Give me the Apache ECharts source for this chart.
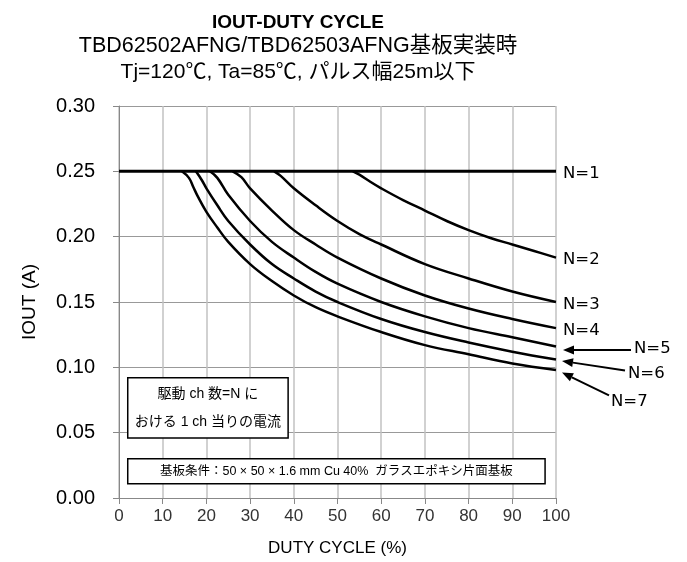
<!DOCTYPE html>
<html>
<head>
<meta charset="utf-8">
<script src="https://cdn.jsdelivr.net/npm/echarts@6/dist/echarts.min.js"></script>
<style>
  html, body { margin: 0; padding: 0; background: #fff; }
  #main { width: 687px; height: 562px; }
</style>
</head>
<body>
<div id="main"></div>
<script>
// 軸の目盛り
var xTicks = [0, 100, 10];
var yTicks = [0, 0.30, 0.05];

// N=1 ～ N=7 の曲線 (DUTY %, IOUT A)
var duty1 = [0, 100];
var iout1 = [0.25, 0.25];
var duty2 = [53.5, 55, 57.5, 60, 65, 70, 75, 80, 85, 90, 95, 100];
var iout2 = [0.25, 0.2475, 0.242, 0.237, 0.228, 0.220, 0.212, 0.205, 0.199, 0.194, 0.189, 0.184];
var duty3 = [35.5, 37, 40, 45, 50, 55, 60, 70, 80, 90, 100];
var iout3 = [0.25, 0.2465, 0.237, 0.224, 0.212, 0.202, 0.194, 0.179, 0.168, 0.158, 0.150];
var duty4 = [26, 28, 30, 35, 40, 45, 50, 60, 70, 80, 90, 100];
var iout4 = [0.25, 0.2455, 0.237, 0.220, 0.205, 0.194, 0.184, 0.168, 0.155, 0.145, 0.137, 0.130];
var duty5 = [20.8, 22.5, 25, 30, 35, 40, 45, 50, 60, 70, 80, 90, 100];
var iout5 = [0.25, 0.245, 0.232, 0.212, 0.196, 0.184, 0.173, 0.164, 0.150, 0.139, 0.130, 0.123, 0.116];
var duty6 = [17.6, 19, 20, 22.5, 25, 30, 35, 40, 45, 50, 60, 70, 80, 90, 100];
var iout6 = [0.25, 0.243, 0.237, 0.224, 0.212, 0.194, 0.179, 0.168, 0.158, 0.150, 0.137, 0.127, 0.119, 0.112, 0.106];
var duty7 = [14.4, 16, 17, 18, 20, 22.5, 25, 30, 35, 40, 45, 50, 60, 70, 80, 90, 100];
var iout7 = [0.25, 0.245, 0.238, 0.231, 0.219, 0.207, 0.196, 0.179, 0.166, 0.155, 0.146, 0.139, 0.127, 0.117, 0.110, 0.103, 0.098];

var seriesNames = ['N=1', 'N=2', 'N=3', 'N=4', 'N=5', 'N=6', 'N=7'];
var dutyList = [duty1, duty2, duty3, duty4, duty5, duty6, duty7];
var ioutList = [iout1, iout2, iout3, iout4, iout5, iout6, iout7];

var latin = '"Liberation Sans", Arial, "Noto Sans CJK JP", sans-serif';
var cjk = '"Liberation Sans", "Noto Sans CJK JP", sans-serif';

function pairs(xs, ys) {
   return xs.map(function (x, i) { return [x, ys[i]]; });
}

var chart = echarts.init(document.getElementById('main'));

var series = seriesNames.map(function (name, i) {
   return {
      name: name,
      type: 'line',
      data: pairs(dutyList[i], ioutList[i]),
      symbol: 'none',
      smooth: i === 0 ? false : 0.4,
      lineStyle: { color: '#000', width: i === 0 ? 3 : 2.5 },
      silent: true,
      z: 5
   };
});

// タイトル3行(中心x, 中心y)
var titleX = 293;
function titleLine(text, cy, size, bold) {
   return {
      text: text, left: titleX, top: cy - size / 2, textAlign: 'center',
      textStyle: {
         fontFamily: bold ? latin : cjk, fontSize: size, lineHeight: size,
         fontWeight: bold ? 'bold' : 'normal', color: '#000'
      }
   };
}

var option = {
   animation: false,
   backgroundColor: '#fff',
   title: [
      titleLine('IOUT-DUTY CYCLE', 17.5, 19, true),
      titleLine('TBD62502AFNG/TBD62503AFNG基板実装時', 41, 21.5, false),
      titleLine('Tj=120℃, Ta=85℃, パルス幅25m以下', 67, 21, false)
   ],
   grid: { left: 119, right: 131, top: 106, bottom: 60 },
   xAxis: {
      type: 'value',
      min: xTicks[0], max: xTicks[1], interval: xTicks[2],
      name: 'DUTY CYCLE (%)',
      nameLocation: 'middle',
      nameGap: 42,
      nameTextStyle: { fontFamily: latin, fontSize: 17, color: '#000' },
      axisLine: { show: true, lineStyle: { color: '#888', width: 1 } },
      axisTick: { show: true, inside: false, length: 6, lineStyle: { color: '#888' } },
      axisLabel: { fontFamily: latin, fontSize: 17, color: '#333', margin: 10 },
      splitLine: { show: true, lineStyle: { color: '#c2c2c2', width: 1.5 } }
   },
   yAxis: {
      type: 'value',
      min: yTicks[0], max: yTicks[1], interval: yTicks[2],
      name: 'IOUT (A)',
      nameLocation: 'middle',
      nameGap: 80,
      nameRotate: 90,
      nameTextStyle: { fontFamily: latin, fontSize: 19, color: '#000' },
      axisLine: { show: true, lineStyle: { color: '#888', width: 1 } },
      axisTick: { show: true, inside: false, length: 6, lineStyle: { color: '#888' } },
      axisLabel: {
         fontFamily: latin, fontSize: 20, color: '#000', margin: 24,
         formatter: function (v) { return v.toFixed(2); }
      },
      splitLine: { show: true, lineStyle: { color: '#999', width: 1 } }
   },
   series: series
};

chart.setOption(option);

// 注記(ラベル・矢印・枠)
function px(x, y) { return chart.convertToPixel({ gridIndex: 0 }, [x, y]); }

var g = [];
var labelFont = '16.5px "DejaVu Sans", Verdana, sans-serif';
// 直接ラベル N=1 ～ N=4
[0, 1, 2, 3].forEach(function (i) {
   var ys = ioutList[i];
   var p = px(100, ys[ys.length - 1]);
   g.push({
      type: 'text', left: p[0] + 7, top: p[1] - 6, z: 20,
      style: { text: seriesNames[i], font: labelFont, fill: '#000' }
   });
});
// 矢印付きラベル N=5 ～ N=7
var arrowOffsets = [
   { tip: [7, 3.5], tail: [75, 3.5], text: [78, -6] },
   { tip: [6, 1.5], tail: [69, 11], text: [72, 6] },
   { tip: [6, 2.5], tail: [53, 25.5], text: [55, 23] }
];
[4, 5, 6].forEach(function (i, k) {
   var ys = ioutList[i];
   var p = px(100, ys[ys.length - 1]);
   var o = arrowOffsets[k];
   var tip = [p[0] + o.tip[0], p[1] + o.tip[1]];
   var tail = [p[0] + o.tail[0], p[1] + o.tail[1]];
   var ang = Math.atan2(tail[1] - tip[1], tail[0] - tip[0]);
   var L = 11, W = 4.5;
   var bx = tip[0] + L * Math.cos(ang), by = tip[1] + L * Math.sin(ang);
   var nx = -Math.sin(ang) * W, ny = Math.cos(ang) * W;
   g.push({
      type: 'line', z: 20,
      shape: { x1: bx, y1: by, x2: tail[0], y2: tail[1] },
      style: { stroke: '#000', lineWidth: 2 }
   });
   g.push({
      type: 'polygon', z: 20,
      shape: { points: [tip, [bx + nx, by + ny], [bx - nx, by - ny]] },
      style: { fill: '#000' }
   });
   g.push({
      type: 'text', left: p[0] + o.text[0], top: p[1] + o.text[1], z: 20,
      style: { text: seriesNames[i], font: labelFont, fill: '#000' }
   });
});

// 枠1: 駆動 ch 数
var b1a = px(2, 0.092), b1b = px(38.7, 0.046);
g.push({
   type: 'rect', z: 15,
   shape: { x: b1a[0], y: b1a[1], width: b1b[0] - b1a[0], height: b1b[1] - b1a[1] },
   style: { fill: '#fff', stroke: '#000', lineWidth: 1.5 }
});
g.push({
   type: 'text', z: 16,
   x: (b1a[0] + b1b[0]) / 2, y: (b1a[1] + b1b[1]) / 2,
   style: {
      text: '駆動 ch 数=N に\nおける 1 ch 当りの電流',
      font: '14px ' + cjk, fill: '#000',
      align: 'center', verticalAlign: 'middle', lineHeight: 28
   }
});
// 枠2: 基板条件
var b2a = px(2, 0.030), b2b = px(97.5, 0.011);
g.push({
   type: 'rect', z: 15,
   shape: { x: b2a[0], y: b2a[1], width: b2b[0] - b2a[0], height: b2b[1] - b2a[1] },
   style: { fill: '#fff', stroke: '#000', lineWidth: 1.5 }
});
g.push({
   type: 'text', z: 16,
   x: (b2a[0] + b2b[0]) / 2, y: (b2a[1] + b2b[1]) / 2,
   style: {
      text: '基板条件：50 × 50 × 1.6 mm Cu 40%  ガラスエポキシ片面基板',
      font: '12.5px ' + cjk, fill: '#000',
      align: 'center', verticalAlign: 'middle'
   }
});

chart.setOption({ graphic: g });
</script>
</body>
</html>
